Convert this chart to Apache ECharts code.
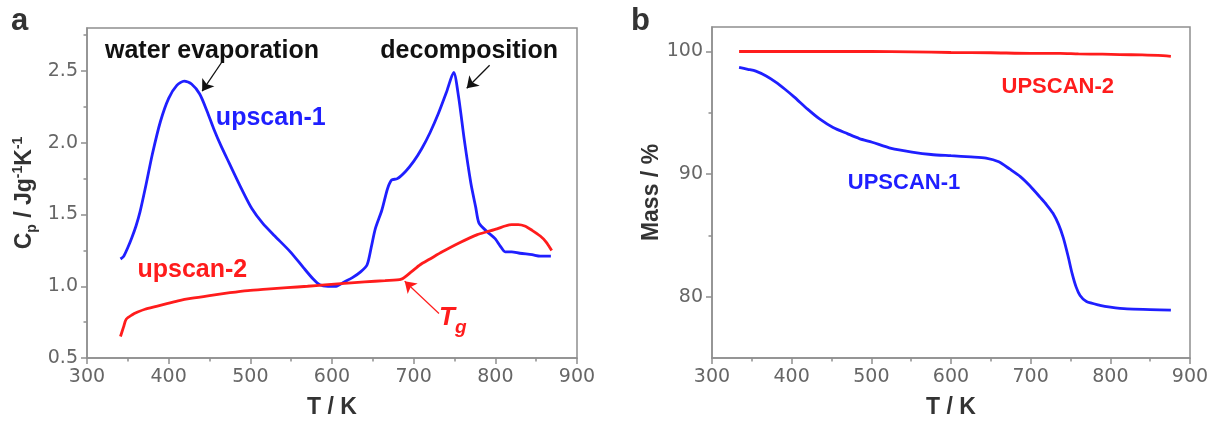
<!DOCTYPE html>
<html>
<head>
<meta charset="utf-8">
<script src="https://cdn.jsdelivr.net/npm/echarts@6/dist/echarts.min.js"></script>
<style>html,body{margin:0;padding:0;background:#fff}#c{width:1212px;height:424px}</style>
</head>
<body>
<div id="c"></div>
<script>
// ---- Panel a: heat capacity (Cp) ----
const tA1 = [341,345,350,355,360,365,372,380,390,400,410,419,428,438,447,455,464,474,490,502,515,530,549,565,577,585,595,605,615,625,635,643,648,653,661,668,673,680,690,700,710,720,730,740,749,755,762,770,776,780,790,800,806,812,820,830,845,855,868];
const cpA1 = [1.19,1.21,1.27,1.34,1.42,1.52,1.70,1.92,2.15,2.31,2.40,2.43,2.41,2.34,2.22,2.10,1.98,1.86,1.67,1.54,1.44,1.35,1.24,1.13,1.05,1.01,1.00,1.00,1.03,1.06,1.10,1.15,1.27,1.40,1.53,1.68,1.74,1.75,1.80,1.87,1.96,2.07,2.20,2.35,2.49,2.32,2.02,1.72,1.55,1.44,1.38,1.33,1.28,1.24,1.24,1.23,1.22,1.21,1.21];
const tA2 = [341,345,348,355,362,371,385,399,413,427,450,475,497,520,545,570,591,615,640,665,685,697,708,720,735,755,778,790,802,812,820,828,836,845,855,862,869];
const cpA2 = [0.65,0.72,0.77,0.80,0.82,0.84,0.86,0.88,0.90,0.915,0.935,0.955,0.97,0.98,0.99,1.00,1.01,1.02,1.03,1.04,1.05,1.10,1.15,1.19,1.24,1.30,1.36,1.38,1.40,1.42,1.43,1.43,1.42,1.39,1.35,1.31,1.25];
const cpTicks = [0.5,1.0,1.5,2.0,2.5];
const cpMinor = [0.75,1.25,1.75,2.25,2.75];

// ---- Panel b: mass (TGA) ----
const tB1 = [334,345,355,368,380,392,403,420,435,452,470,485,501,525,551,575,600,625,644,660,674,687,699,712,720,728,735,741,747,752,757,762,770,787,800,821,850,876];
const mB1 = [98.7,98.55,98.4,98.0,97.5,96.9,96.3,95.3,94.5,93.8,93.3,92.9,92.6,92.1,91.8,91.6,91.5,91.4,91.3,91.0,90.4,89.8,89.05,88.1,87.5,86.8,85.9,84.8,83.3,81.9,80.8,80.1,79.6,79.3,79.15,79.0,78.95,78.9];
const tB2 = [334,400,450,500,550,600,650,700,737,760,790,812,840,860,876];
const mB2 = [100.0,100.0,100.0,100.0,99.97,99.92,99.9,99.85,99.85,99.8,99.78,99.75,99.72,99.68,99.6];
const massTicks = [80,90,100];
const massMinor = [85,95];
const tTicks = [300,400,500,600,700,800,900];

const pairs = (xs, ys) => xs.map((x, i) => [x, ys[i]]);

const AX = '#8f8f8f';
const LBL = {fontFamily:'DejaVu Sans', fontSize:19, color:'#666'};
const NAME = {fontFamily:'Liberation Sans', fontSize:23, fontWeight:'bold', color:'#333'};
const ANN = {fontFamily:'Liberation Sans', fontWeight:'bold', fontSize:25};
const BLUE = '#1f1fff', RED = '#ff1c1c';

function xAx(gi) {
  return {
    type:'value', gridIndex:gi, min:tTicks[0], max:tTicks[tTicks.length-1], interval:100,
    name:'T / K', nameLocation:'middle', nameGap:38, nameTextStyle:NAME,
    axisLine:{show:true, onZero:false, lineStyle:{color:AX, width:1.5}},
    axisTick:{show:true, length:6, lineStyle:{color:AX, width:1.5}},
    minorTick:{show:true, splitNumber:2, length:3.5, lineStyle:{color:AX, width:1.5}},
    axisLabel:{...LBL, margin:10},
    splitLine:{show:false}, minorSplitLine:{show:false}
  };
}
function yMinor(gi, min, max, vals) {
  return {
    type:'value', gridIndex:gi, min:min, max:max, position:'left',
    axisLine:{show:false}, axisLabel:{show:false}, splitLine:{show:false},
    axisTick:{show:true, length:3.5, customValues:vals, lineStyle:{color:AX, width:1.5}}
  };
}
function markTxt(coord, text, color, size) {
  return {coord:coord, name:text, label:{show:true, position:'inside', formatter:text, color:color, ...ANN, fontSize:size}};
}
function arrow(from, to, color, width) {
  return [{coord:from, lineStyle:{color:color, width:width, type:'solid'}, itemStyle:{color:color}}, {coord:to, itemStyle:{color:color}}];
}
const LINE = {type:'line', showSymbol:false, smooth:0.25, silent:true};

const chart = echarts.init(document.getElementById('c'), null, {renderer:'canvas'});
chart.setOption({
  animation:false,
  backgroundColor:'#fff',
  title:[
    {text:'a', left:11, top:6, padding:0, textStyle:{fontFamily:'Liberation Sans', fontSize:31, fontWeight:'bold', color:'#333'}},
    {text:'b', left:631, top:6, padding:0, textStyle:{fontFamily:'Liberation Sans', fontSize:31, fontWeight:'bold', color:'#333'}}
  ],
  grid:[
    {left:87, top:28, width:490, height:334, show:true, borderColor:AX, borderWidth:1.5, backgroundColor:'transparent'},
    {left:712, top:27, width:478, height:332, show:true, borderColor:AX, borderWidth:1.5, backgroundColor:'transparent'}
  ],
  xAxis:[xAx(0), xAx(1)],
  yAxis:[
    {
      type:'value', gridIndex:0, min:0.5, max:2.8, position:'left',
      name:'C{sub|p} / Jg{sup|-1}K{sup|-1}', nameLocation:'middle', nameRotate:90, nameGap:48,
      nameTextStyle:{...NAME, rich:{
        sub:{fontFamily:'Liberation Sans', fontSize:14, fontWeight:'bold', color:'#333', verticalAlign:'bottom', lineHeight:28},
        sup:{fontFamily:'Liberation Sans', fontSize:14, fontWeight:'bold', color:'#333', verticalAlign:'top', lineHeight:14}
      }},
      axisLine:{show:true, onZero:false, lineStyle:{color:AX, width:1.5}},
      axisTick:{show:true, length:6, customValues:cpTicks, lineStyle:{color:AX, width:1.5}},
      axisLabel:{...LBL, margin:9, customValues:cpTicks, formatter:v => v.toFixed(1)},
      splitLine:{show:false}
    },
    yMinor(0, 0.5, 2.8, cpMinor),
    {
      type:'value', gridIndex:1, min:75, max:102, position:'left',
      name:'Mass / %', nameLocation:'middle', nameRotate:90, nameGap:48, nameTextStyle:NAME,
      axisLine:{show:true, onZero:false, lineStyle:{color:AX, width:1.5}},
      axisTick:{show:true, length:6, customValues:massTicks, lineStyle:{color:AX, width:1.5}},
      axisLabel:{...LBL, margin:9, customValues:massTicks},
      splitLine:{show:false}
    },
    yMinor(1, 75, 102, massMinor)
  ],
  series:[
    {
      ...LINE, name:'upscan-1', xAxisIndex:0, yAxisIndex:0, data:pairs(tA1, cpA1),
      lineStyle:{color:BLUE, width:2.8},
      markPoint:{symbol:'circle', symbolSize:0, silent:true, data:[
        markTxt([453, 2.64], 'water evaporation', '#111', 25),
        markTxt([768, 2.64], 'decomposition', '#111', 25),
        markTxt([525, 2.17], 'upscan-1', BLUE, 25)
      ]},
      markLine:{silent:true, symbol:['none','arrow'], symbolSize:11, label:{show:false}, data:[
        arrow([466, 2.57], [441, 2.36], '#111', 1.3),
        arrow([793, 2.54], [765, 2.38], '#111', 1.3)
      ]}
    },
    {
      ...LINE, name:'upscan-2', xAxisIndex:0, yAxisIndex:0, data:pairs(tA2, cpA2),
      lineStyle:{color:RED, width:2.8},
      markPoint:{symbol:'circle', symbolSize:0, silent:true, data:[
        markTxt([429, 1.11], 'upscan-2', RED, 25),
        {coord:[748, 0.78], label:{show:true, position:'inside', formatter:'{t|T}{g|g}',
          rich:{t:{color:RED, fontFamily:'Liberation Sans', fontSize:26, fontWeight:'bold', fontStyle:'italic'},
                g:{color:RED, fontFamily:'Liberation Sans', fontSize:19, fontWeight:'bold', fontStyle:'italic', verticalAlign:'bottom', lineHeight:38}}}}
      ]},
      markLine:{silent:true, symbol:['none','arrow'], symbolSize:11, label:{show:false}, data:[
        arrow([731, 0.81], [689, 1.035], RED, 1.2)
      ]}
    },
    {
      ...LINE, name:'UPSCAN-1', xAxisIndex:1, yAxisIndex:2, data:pairs(tB1, mB1),
      lineStyle:{color:BLUE, width:2.8},
      markPoint:{symbol:'circle', symbolSize:0, silent:true, data:[
        markTxt([541, 89.3], 'UPSCAN-1', BLUE, 22)
      ]}
    },
    {
      ...LINE, name:'UPSCAN-2', xAxisIndex:1, yAxisIndex:2, data:pairs(tB2, mB2),
      lineStyle:{color:RED, width:2.8},
      markPoint:{symbol:'circle', symbolSize:0, silent:true, data:[
        markTxt([734, 97.1], 'UPSCAN-2', RED, 22)
      ]}
    }
  ]
});
</script>
</body>
</html>
